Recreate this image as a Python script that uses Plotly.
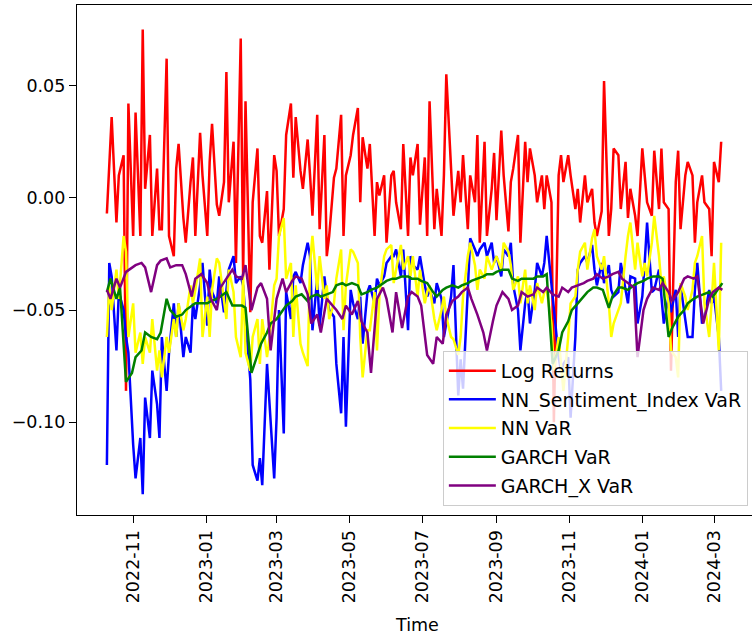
import pandas as pd
import plotly.graph_objects as go

# ---- data ----
# returns and the two NN VaR series: every 2nd trading day
# the two GARCH VaR series: every 3rd trading day
dates_2b = pd.date_range("2022-10-10", periods=185, freq="2B")
dates_3b = pd.date_range("2022-10-10", periods=124, freq="3B")

log_returns = [
    -0.007, 0.015, 0.036, -0.011, 0.010, 0.019, -0.086, 0.042, -0.017, 0.038,
    -0.017, 0.075, 0.004, 0.028, -0.017, 0.013, -0.014, -0.014, 0.062, -0.017,
    -0.026, 0.013, 0.024, -0.009, -0.020, 0.007, 0.018, -0.017, 0.029, 0.010,
    -0.017, 0.016, 0.033, -0.003, -0.008, 0.007, 0.056, -0.002, 0.025, -0.029,
    0.071, -0.035, 0.043, -0.051, -0.002, 0.022, -0.017, -0.020, 0.003, -0.032,
    0.019, 0.012, -0.017, -0.005, 0.028, 0.042, 0.009, 0.036, 0.012, 0.004,
    0.026, 0.010, -0.008, 0.037, -0.014, 0.028, -0.026, -0.017, 0.009, 0.013,
    0.037, -0.017, 0.010, 0.019, 0.028, 0.040, -0.002, 0.027, 0.013, 0.024,
    -0.017, 0.007, 0.001, 0.010, -0.020, 0.010, 0.012, -0.002, -0.014, 0.024,
    -0.017, 0.018, 0.010, 0.024, -0.012, 0.018, -0.017, 0.043, -0.014, 0.004,
    -0.017, 0.010, 0.055, 0.013, -0.008, 0.012, -0.002, 0.019, -0.014, 0.010,
    -0.002, 0.028, -0.020, 0.025, -0.017, 0.004, 0.020, -0.010, 0.030, 0.010,
    -0.015, 0.007, 0.013, 0.028, -0.020, 0.025, 0.007, 0.022, 0.010, -0.002,
    0.010, -0.005, 0.010, -0.002, -0.100, 0.010, 0.019, 0.007, 0.019, 0.010,
    -0.005, 0.004, -0.011, 0.010, -0.002, 0.004, -0.011, -0.017, -0.006, 0.052,
    -0.017, -0.005, 0.022, 0.019, -0.005, 0.016, -0.009, 0.004, -0.008, -0.017,
    0.022, 0.010, -0.002, -0.008, 0.021, -0.005, 0.022, -0.002, -0.005, -0.077,
    0.007, 0.021, -0.014, 0.010, 0.016, 0.010, -0.020, -0.002, 0.010, -0.002,
    -0.005, -0.026, 0.016, 0.007, 0.025,
]

nn_sentiment_var = [
    -0.119, -0.029, -0.035, -0.068, -0.042, -0.050, -0.062, -0.069, -0.110, -0.125,
    -0.107, -0.132, -0.089, -0.107, -0.077, -0.092, -0.107, -0.062, -0.086, -0.069,
    -0.047, -0.062, -0.047, -0.071, -0.062, -0.069, -0.047, -0.054, -0.039, -0.029,
    -0.057, -0.032, -0.042, -0.047, -0.035, -0.051, -0.041, -0.032, -0.026, -0.038,
    -0.035, -0.039, -0.054, -0.081, -0.119, -0.126, -0.116, -0.128, -0.074, -0.090,
    -0.125, -0.098, -0.050, -0.105, -0.042, -0.054, -0.035, -0.033, -0.038, -0.030,
    -0.020, -0.026, -0.059, -0.036, -0.057, -0.035, -0.044, -0.050, -0.053, -0.074,
    -0.096, -0.062, -0.102, -0.041, -0.047, -0.054, -0.044, -0.065, -0.042, -0.039,
    -0.047, -0.036, -0.039, -0.035, -0.029, -0.026, -0.026, -0.023, -0.035, -0.023,
    -0.059, -0.026, -0.030, -0.032, -0.026, -0.039, -0.044, -0.041, -0.047, -0.038,
    -0.045, -0.062, -0.056, -0.044, -0.030, -0.088, -0.072, -0.085, -0.041, -0.018,
    -0.023, -0.026, -0.023, -0.020, -0.026, -0.020, -0.029, -0.026, -0.035, -0.023,
    -0.026, -0.020, -0.039, -0.050, -0.068, -0.047, -0.041, -0.056, -0.041, -0.029,
    -0.035, -0.029, -0.017, -0.039, -0.050, -0.071, -0.077, -0.074, -0.071, -0.098,
    -0.062, -0.032, -0.029, -0.026, -0.029, -0.021, -0.032, -0.039, -0.029, -0.038,
    -0.030, -0.041, -0.044, -0.042, -0.029, -0.041, -0.047, -0.035, -0.036, -0.056,
    -0.044, -0.029, -0.011, -0.042, -0.041, -0.032, -0.044, -0.056, -0.044, -0.051,
    -0.041, -0.062, -0.039, -0.056, -0.062, -0.062, -0.041, -0.029, -0.056, -0.053,
    -0.041, -0.047, -0.044, -0.062, -0.086,
]

nn_var = [
    -0.062, -0.039, -0.050, -0.032, -0.045, -0.017, -0.024, -0.062, -0.047, -0.069,
    -0.060, -0.074, -0.062, -0.069, -0.054, -0.077, -0.068, -0.080, -0.062, -0.069,
    -0.054, -0.062, -0.047, -0.059, -0.054, -0.039, -0.047, -0.041, -0.027, -0.062,
    -0.044, -0.062, -0.041, -0.027, -0.029, -0.047, -0.054, -0.032, -0.042, -0.062,
    -0.071, -0.035, -0.069, -0.077, -0.062, -0.054, -0.074, -0.054, -0.071, -0.063,
    -0.039, -0.036, -0.017, -0.009, -0.036, -0.029, -0.062, -0.039, -0.065, -0.069,
    -0.075, -0.029, -0.017, -0.041, -0.026, -0.045, -0.039, -0.054, -0.047, -0.036,
    -0.023, -0.059, -0.039, -0.023, -0.024, -0.029, -0.062, -0.080, -0.059, -0.059,
    -0.042, -0.068, -0.044, -0.026, -0.023, -0.021, -0.038, -0.032, -0.021, -0.032,
    -0.026, -0.035, -0.026, -0.044, -0.032, -0.047, -0.042, -0.039, -0.054, -0.059,
    -0.050, -0.044, -0.053, -0.062, -0.063, -0.070, -0.062, -0.044, -0.026, -0.020,
    -0.030, -0.041, -0.032, -0.036, -0.026, -0.032, -0.029, -0.026, -0.032, -0.020,
    -0.024, -0.030, -0.041, -0.035, -0.047, -0.032, -0.047, -0.039, -0.050, -0.038,
    -0.047, -0.042, -0.041, -0.056, -0.077, -0.062, -0.074, -0.086, -0.062, -0.047,
    -0.044, -0.032, -0.024, -0.020, -0.032, -0.018, -0.014, -0.026, -0.032, -0.026,
    -0.047, -0.062, -0.056, -0.050, -0.047, -0.026, -0.017, -0.011, -0.032, -0.020,
    -0.035, -0.029, -0.035, -0.020, -0.008, -0.026, -0.039, -0.035, -0.047, -0.068,
    -0.071, -0.080, -0.038, -0.044, -0.050, -0.041, -0.029, -0.026, -0.017, -0.047,
    -0.062, -0.047, -0.029, -0.068, -0.020,
]

garch_var = [
    -0.042, -0.036, -0.045, -0.040, -0.082, -0.078, -0.071, -0.068, -0.060, -0.062,
    -0.063, -0.060, -0.045, -0.050, -0.053, -0.052, -0.050, -0.048, -0.047, -0.047,
    -0.047, -0.046, -0.045, -0.044, -0.042, -0.048, -0.048, -0.048, -0.049, -0.078,
    -0.070, -0.065, -0.060, -0.056, -0.054, -0.050, -0.048, -0.046, -0.044, -0.043,
    -0.046, -0.044, -0.043, -0.044, -0.043, -0.042, -0.039, -0.038, -0.039, -0.038,
    -0.039, -0.043, -0.042, -0.041, -0.040, -0.038, -0.037, -0.036, -0.036, -0.035,
    -0.035, -0.036, -0.036, -0.037, -0.038, -0.042, -0.044, -0.041, -0.040, -0.039,
    -0.040, -0.039, -0.038, -0.037, -0.036, -0.035, -0.034, -0.034, -0.033, -0.032,
    -0.032, -0.036, -0.037, -0.036, -0.036, -0.036, -0.035, -0.035, -0.034, -0.074,
    -0.068, -0.060, -0.055, -0.050, -0.047, -0.044, -0.042, -0.040, -0.040, -0.041,
    -0.049, -0.044, -0.040, -0.040, -0.041, -0.039, -0.038, -0.037, -0.036, -0.035,
    -0.035, -0.036, -0.062, -0.058, -0.053, -0.050, -0.047, -0.045, -0.044, -0.043,
    -0.042, -0.044, -0.040, -0.038,
]

garch_x_var = [
    -0.041, -0.045, -0.036, -0.040, -0.033, -0.031, -0.030, -0.029, -0.031, -0.042,
    -0.030, -0.028, -0.027, -0.031, -0.030, -0.030, -0.034, -0.044, -0.036, -0.034,
    -0.038, -0.045, -0.050, -0.040, -0.036, -0.032, -0.035, -0.036, -0.030, -0.050,
    -0.040, -0.038, -0.045, -0.068, -0.045, -0.036, -0.042, -0.037, -0.035, -0.036,
    -0.043, -0.056, -0.052, -0.060, -0.045, -0.048, -0.050, -0.054, -0.048, -0.052,
    -0.046, -0.055, -0.060, -0.078, -0.045, -0.040, -0.045, -0.060, -0.042, -0.058,
    -0.044, -0.042, -0.044, -0.048, -0.070, -0.074, -0.062, -0.065, -0.052, -0.046,
    -0.044, -0.042, -0.040, -0.045, -0.052, -0.060, -0.068, -0.055, -0.048, -0.042,
    -0.045, -0.050, -0.048, -0.042, -0.044, -0.043, -0.040, -0.042, -0.040, -0.043,
    -0.044, -0.040, -0.042, -0.040, -0.039, -0.038, -0.037, -0.036, -0.034, -0.036,
    -0.035, -0.034, -0.033, -0.036, -0.038, -0.040, -0.071, -0.050, -0.045, -0.040,
    -0.041, -0.038, -0.042, -0.046, -0.042, -0.036, -0.035, -0.036, -0.035, -0.056,
    -0.045, -0.042, -0.040, -0.041,
]

series_names = ["Log Returns", "NN_Sentiment_Index VaR", "NN VaR", "GARCH VaR", "GARCH_X VaR"]
series_values = [log_returns, nn_sentiment_var, nn_var, garch_var, garch_x_var]
series_dates = [dates_2b, dates_2b, dates_2b, dates_3b, dates_3b]
series_colors = ["#ff0000", "#0000ff", "#ffff00", "#008000", "#800080"]

xtick_vals = ["2022-11-01", "2023-01-01", "2023-03-01", "2023-05-01", "2023-07-01",
              "2023-09-01", "2023-11-01", "2024-01-01", "2024-03-01"]
xtick_text = ["2022-11", "2023-01", "2023-03", "2023-05", "2023-07",
              "2023-09", "2023-11", "2024-01", "2024-03"]
ytick_vals = [0.05, 0.0, -0.05, -0.10]
ytick_text = ["0.05", "0.00", "\u22120.05", "\u22120.10"]

fig = go.Figure()
for name, xs, vals, color in zip(series_names, series_dates, series_values, series_colors):
    fig.add_trace(go.Scatter(
        x=xs, y=vals, mode="lines", name=name, legendgroup=name,
        line=dict(color=color, width=2.5),
    ))

axis_common = dict(
    showgrid=False, zeroline=False, showline=True, linecolor="#000000",
    linewidth=1.3, ticks="outside", ticklen=7, tickwidth=1.3, tickcolor="#000000",
    tickfont=dict(family="DejaVu Sans", size=17.5, color="#000000"),
)

fig.update_layout(
    width=752, height=636,
    margin=dict(l=77, r=0, t=5, b=121),
    plot_bgcolor="white", paper_bgcolor="white",
    font=dict(family="DejaVu Sans", size=17.5, color="#000000"),
    showlegend=True,
    legend=dict(
        x=0.542, y=0.322, xanchor="left", yanchor="top",
        bgcolor="rgba(255,255,255,0.8)", bordercolor="#cccccc", borderwidth=1,
        font=dict(family="DejaVu Sans", size=19, color="#000000"),
        tracegroupgap=1, itemwidth=47,
    ),
    xaxis=dict(
        range=["2022-09-15", "2024-04-01 19:00"], type="date",
        tickvals=xtick_vals, ticktext=xtick_text, tickangle=-90,
        mirror=True, **axis_common,
    ),
    yaxis=dict(
        range=[-0.1413, 0.0859],
        tickvals=ytick_vals, ticktext=ytick_text,
        **axis_common,
    ),
    annotations=[dict(
        text="Time", x=0.5037, y=-0.2157, xref="paper", yref="paper",
        xanchor="center", yanchor="middle", showarrow=False,
        font=dict(family="DejaVu Sans", size=17.5, color="#000000"),
    )],
)

fig.write_html("out.html")
